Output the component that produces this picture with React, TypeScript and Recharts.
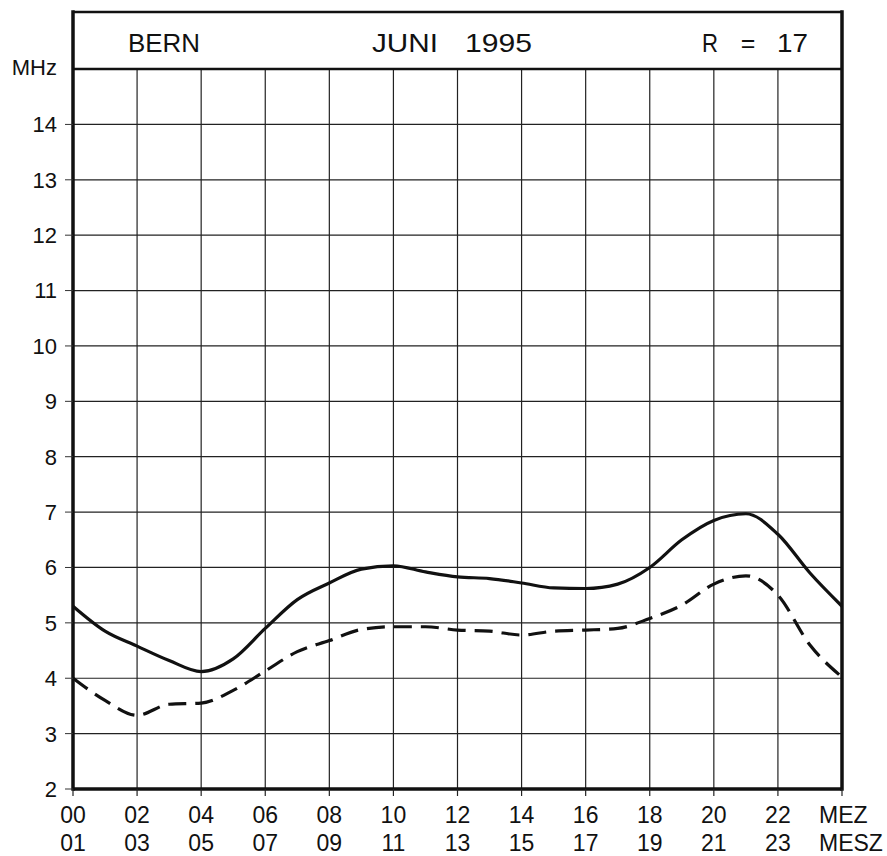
import {
  LineChart,
  Line,
  XAxis,
  YAxis,
  CartesianGrid,
  ReferenceLine,
  ReferenceArea,
} from 'recharts';

// hour of day (MEZ) and the two frequency curves in MHz
const hours = [0, 1, 2, 3, 4, 5, 6, 7, 8, 9, 10, 11, 12, 13, 14, 15, 16, 17, 18, 19, 20, 21, 22, 23, 24];
const upperMHz = [5.3, 4.85, 4.58, 4.32, 4.12, 4.35, 4.9, 5.42, 5.72, 5.97, 6.03, 5.92, 5.83, 5.8, 5.72, 5.63, 5.62, 5.7, 6.0, 6.5, 6.85, 6.97, 6.6, 5.9, 5.3];
const lowerMHz = [4.0, 3.6, 3.33, 3.53, 3.55, 3.78, 4.13, 4.48, 4.68, 4.88, 4.93, 4.93, 4.87, 4.85, 4.78, 4.85, 4.87, 4.9, 5.08, 5.32, 5.7, 5.85, 5.5, 4.6, 4.02];

const xTicks = [0, 2, 4, 6, 8, 10, 12, 14, 16, 18, 20, 22, 24];
const mezLabels = ['00', '02', '04', '06', '08', '10', '12', '14', '16', '18', '20', '22', 'MEZ'];
const meszLabels = ['01', '03', '05', '07', '09', '11', '13', '15', '17', '19', '21', '23', 'MESZ'];
const yTicks = [2, 3, 4, 5, 6, 7, 8, 9, 10, 11, 12, 13, 14, 15];

const FONT = '"Liberation Sans", Arial, Helvetica, sans-serif';
const INK = '#111';
const Y_TOP = 16.03; // header strip above 15 MHz

const data = hours.map((h, i) => ({ hour: h, upper: upperMHz[i], lower: lowerMHz[i] }));

function XTick(props: any) {
  const { x, y, payload } = props;
  const i = xTicks.indexOf(payload.value);
  const last = i === xTicks.length - 1;
  const anchor = last ? 'start' : 'middle';
  const tx = last ? x - 23 : x;
  return (
    <g fontFamily={FONT} fontSize={23} fill={INK}>
      <text x={tx} y={y + 25} textAnchor={anchor}>{mezLabels[i]}</text>
      <text x={tx} y={y + 53} textAnchor={anchor}>{meszLabels[i]}</text>
    </g>
  );
}

function YTick(props: any) {
  const { x, y, payload } = props;
  const v = payload.value;
  const isUnit = v === 15;
  return (
    <g>
      {!isUnit && <line x1={x + 8} x2={x + 16} y1={y} y2={y} stroke="#333" strokeWidth={1} />}
      <text
        x={x}
        y={isUnit ? y - 2 : y}
        dy="0.36em"
        textAnchor="end"
        fontFamily={FONT}
        fontSize={22}
        fill={INK}
      >
        {isUnit ? 'MHz' : v}
      </text>
    </g>
  );
}

function Header(props: any) {
  const { x, y } = props.viewBox;
  const base = y + 40;
  const t = { fontFamily: FONT, fontSize: 25, fill: INK, lengthAdjust: 'spacingAndGlyphs' as const };
  return (
    <g>
      <text {...t} x={x + 55} y={base} textLength={72}>BERN</text>
      <text {...t} x={x + 299} y={base} textLength={66}>JUNI</text>
      <text {...t} x={x + 392} y={base} textLength={67}>1995</text>
      <text {...t} x={x + 629} y={base} textLength={16}>R</text>
      <text {...t} x={x + 675} y={base} textAnchor="middle">=</text>
      <text {...t} x={x + 704} y={base} textLength={31}>17</text>
    </g>
  );
}

export default function App() {
  return (
    <div style={{ position: 'absolute', left: 0, top: 0, width: 887, height: 856, background: '#fff' }}>
      <LineChart width={887} height={856} data={data} margin={{ top: 12, right: 45, bottom: 0, left: 0 }}>
        <CartesianGrid stroke="#222" strokeWidth={1.2} />
        <XAxis
          dataKey="hour"
          type="number"
          domain={[0, 24]}
          ticks={xTicks}
          interval={0}
          height={67}
          tickSize={7}
          tickLine={{ stroke: '#222', strokeWidth: 1.2 }}
          axisLine={false}
          tick={<XTick />}
        />
        <YAxis
          type="number"
          domain={[2, Y_TOP]}
          ticks={yTicks}
          interval={0}
          width={73}
          tickSize={8}
          tickMargin={8}
          tickLine={false}
          axisLine={false}
          tick={<YTick />}
        />
        <ReferenceArea
          x1={0}
          x2={24}
          y1={15}
          y2={Y_TOP}
          fill="#fff"
          fillOpacity={1}
          stroke="none"
          label={<Header />}
        />
        <ReferenceLine y={15} stroke={INK} strokeWidth={2.5} />
        <ReferenceLine y={Y_TOP} stroke={INK} strokeWidth={2.5} />
        <ReferenceLine y={2} stroke={INK} strokeWidth={3.5} />
        <ReferenceLine x={0} stroke={INK} strokeWidth={3.5} strokeLinecap="square" />
        <ReferenceLine x={24} stroke={INK} strokeWidth={3.5} strokeLinecap="square" />
        <Line
          type="monotone"
          dataKey="lower"
          stroke={INK}
          strokeWidth={3.2}
          strokeDasharray="18 9"
          dot={false}
          activeDot={false}
          isAnimationActive={false}
        />
        <Line
          type="monotone"
          dataKey="upper"
          stroke={INK}
          strokeWidth={3.2}
          dot={false}
          activeDot={false}
          isAnimationActive={false}
        />
      </LineChart>
    </div>
  );
}
